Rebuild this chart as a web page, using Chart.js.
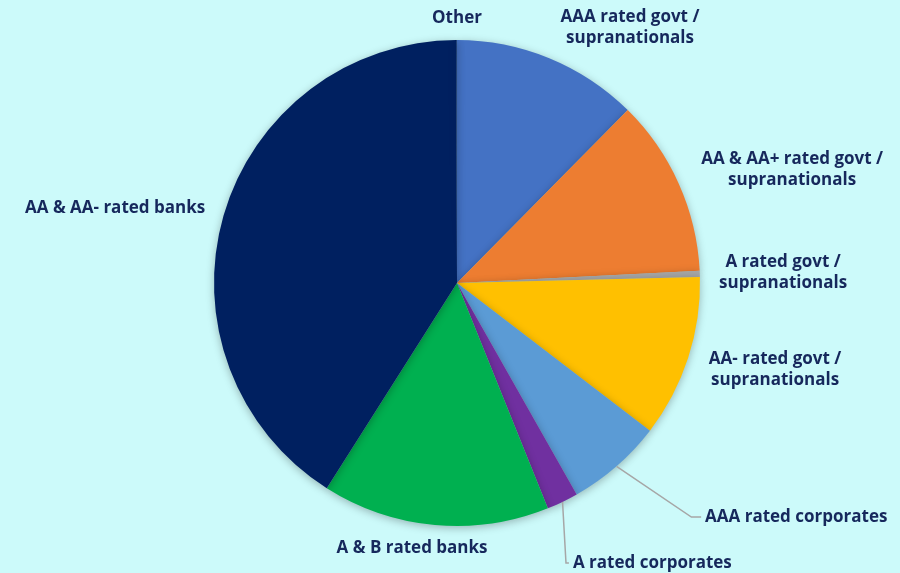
<!DOCTYPE html>
<html>
<head>
<meta charset="utf-8">
<script src="https://cdn.jsdelivr.net/npm/chart.js@4.4.1/dist/chart.umd.min.js"></script>
<style>
    html, body { margin: 0; padding: 0; background: #CCFAFA; }
    #wrap { width: 900px; height: 573px; }
</style>
</head>
<body>
<div id="wrap"><canvas id="pieChart" width="900" height="573"></canvas></div>
<script>
// slices in clockwise order from 12 o'clock (percent of portfolio)
const categories = [
    'AAA rated govt / supranationals',
    'AA & AA+ rated govt / supranationals',
    'A rated govt / supranationals',
    'AA- rated govt / supranationals',
    'AAA rated corporates',
    'A rated corporates',
    'A & B rated banks',
    'AA & AA- rated banks',
    'Other'
];
const shares = [12.4, 11.8, 0.4, 10.8, 6.4, 2.1, 15.1, 40.95, 0.05];
const sliceColors = ['#4472C4', '#ED7D31', '#A5A5A5', '#FFC000', '#5B9BD5', '#7030A0', '#00B050', '#002060', '#002060'];

// label text split in lines
const labelLines = [
    ['AAA rated govt /', 'supranationals'],
    ['AA & AA+ rated govt /', 'supranationals'],
    ['A rated govt /', 'supranationals'],
    ['AA- rated govt /', 'supranationals'],
    ['AAA rated corporates'],
    ['A rated corporates'],
    ['A & B rated banks'],
    ['AA & AA- rated banks'],
    ['Other']
];

// label placement, in pie radii from the centre; leader = draw a line from the slice edge
const labelPlace = [
    { dx: 0.712, dy: -1.049, align: 'center' },
    { dx: 1.379, dy: -0.465, align: 'center' },
    { dx: 1.342, dy: -0.041, align: 'center' },
    { dx: 1.309, dy: 0.358, align: 'center' },
    { dx: 1.021, dy: 0.963, align: 'left', leader: true, elbow: 0.04 },
    { dx: 0.477, dy: 1.152, align: 'left', leader: true, elbow: 0.012 },
    { dx: -0.185, dy: 1.091, align: 'center' },
    { dx: -1.407, dy: -0.309, align: 'center' },
    { dx: 0, dy: -1.09, align: 'center' }
];

const textColor = '#16285C';

const pieShadow = {
    id: 'pieShadow',
    beforeDatasetsDraw(chart) {
        const ctx = chart.ctx;
        ctx.save();
        ctx.shadowColor = 'rgba(0,0,0,0.28)';
        ctx.shadowBlur = 9;
        ctx.shadowOffsetY = 2;
    },
    afterDatasetsDraw(chart) {
        chart.ctx.restore();
    }
};

const pieLabels = {
    id: 'pieLabels',
    afterDraw(chart) {
        const ctx = chart.ctx;
        const arcs = chart.getDatasetMeta(0).data;
        const cx = arcs[0].x;
        const cy = arcs[0].y;
        const r = arcs[0].outerRadius;
        ctx.save();
        ctx.font = 'bold 17px "Open Sans", Lato, sans-serif';
        ctx.fillStyle = textColor;
        ctx.textBaseline = 'middle';

        for (let i = 0; i < arcs.length; i++) {
            const p = labelPlace[i];
            const lx = cx + p.dx * r;
            const ly = cy + p.dy * r;
            const lines = labelLines[i];
            const lineH = 21;

            if (p.leader) {
                const mid = (arcs[i].startAngle + arcs[i].endAngle) / 2;
                const sx = cx + Math.cos(mid) * r;
                const sy = cy + Math.sin(mid) * r;
                const ex = lx - 4;
                ctx.strokeStyle = '#A6A6A6';
                ctx.lineWidth = 1.5;
                ctx.beginPath();
                ctx.moveTo(sx, sy);
                ctx.lineTo(ex - p.elbow * r, ly);
                ctx.lineTo(ex, ly);
                ctx.stroke();
            }

            ctx.textAlign = p.align;
            const top = ly - (lines.length - 1) * lineH / 2;
            for (let k = 0; k < lines.length; k++) {
                ctx.fillText(lines[k], lx, top + k * lineH);
            }
        }
        ctx.restore();
    }
};

function initPie() {
    let canvas = document.getElementById('pieChart');
    new Chart(canvas, {
        type: 'pie',
        data: {
            labels: categories,
            datasets: [{
                data: shares,
                backgroundColor: sliceColors,
                borderWidth: 0
            }]
        },
        options: {
            responsive: false,
            animation: false,
            layout: {
                padding: { left: 214, right: 200, top: 40, bottom: 47 }
            },
            plugins: {
                legend: { display: false },
                tooltip: { enabled: false }
            }
        },
        plugins: [pieShadow, pieLabels]
    });
}

window.addEventListener('load', initPie);
</script>
</body>
</html>
